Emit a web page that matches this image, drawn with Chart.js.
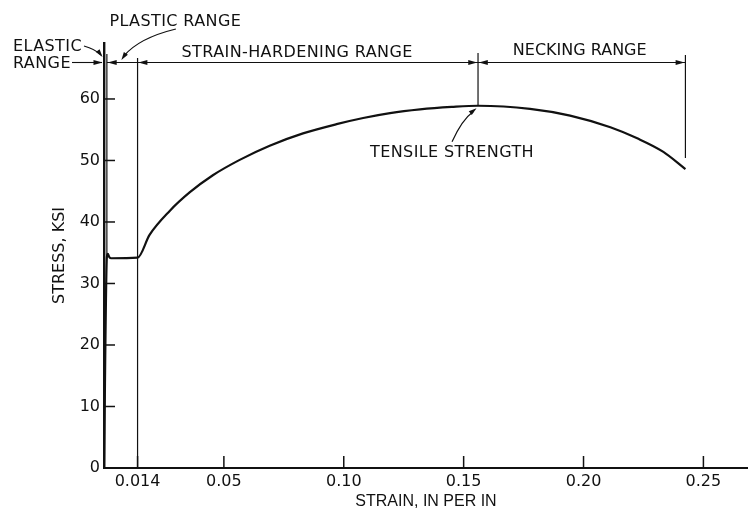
<!DOCTYPE html>
<html>
<head>
<meta charset="utf-8">
<script src="https://cdn.jsdelivr.net/npm/chart.js@4.4.1/dist/chart.umd.min.js"></script>
<style>
  html, body { margin: 0; padding: 0; background: #ffffff; }
  #wrap { width: 748px; height: 511px; position: relative; }
</style>
</head>
<body>
<div id="wrap"><canvas id="c" width="748" height="511"></canvas></div>
<script>
// ---- data ----
const strain = [0, 0.0012, 0.0016, 0.0022, 0.0030, 0.014, 0.0190, 0.0274, 0.0357, 0.0454, 0.0566, 0.0691, 0.0830, 0.0970, 0.1081, 0.1193, 0.1318, 0.145, 0.156, 0.1777, 0.1944, 0.2112, 0.2224, 0.2333, 0.2425];
const stress = [0, 34.3, 34.8, 34.3, 34.1, 34.2, 37.9, 41.8, 44.8, 47.6, 50.1, 52.4, 54.4, 55.9, 56.9, 57.7, 58.3, 58.7, 58.9, 58.4, 57.3, 55.4, 53.6, 51.4, 48.6];
const xTickValues = [0.014, 0.05, 0.10, 0.15, 0.20, 0.25];
const xTickLabels = ['0.014', '0.05', '0.10', '0.15', '0.20', '0.25'];
const yTickValues = [0, 10, 20, 30, 40, 50, 60];
const rangeBounds = [0, 0.0012, 0.014, 0.156, 0.2425];   // elastic | plastic | strain-hardening | necking
const neckingLineEnd = 50.4;                             // stress where the necking extension line stops
const labelElastic = ['ELASTIC', 'RANGE'];
const labelPlastic = 'PLASTIC RANGE';
const labelHardening = 'STRAIN-HARDENING RANGE';
const labelNecking = 'NECKING RANGE';
const labelTensile = 'TENSILE STRENGTH';
const xTitle = 'STRAIN, IN PER IN';
const yTitle = 'STRESS, KSI';

const INK = '#111111';
const ANN_FONT = '16px "DejaVu Sans"';

function stressAt(s) { return stress[strain.indexOf(s)]; }

const annotations = {
  id: 'annotations',
  afterDraw(chart) {
    const { ctx, chartArea: a, scales: { x, y } } = chart;
    const X = v => x.getPixelForValue(v);
    const Y = v => y.getPixelForValue(v);
    const line = (x1, y1, x2, y2) => { ctx.beginPath(); ctx.moveTo(x1, y1); ctx.lineTo(x2, y2); ctx.stroke(); };
    const head = (tx, ty, ang, len = 9, half = 2.6) => {
      ctx.beginPath();
      ctx.moveTo(tx, ty);
      ctx.lineTo(tx - len * Math.cos(ang) + half * Math.sin(ang), ty - len * Math.sin(ang) - half * Math.cos(ang));
      ctx.lineTo(tx - len * Math.cos(ang) - half * Math.sin(ang), ty - len * Math.sin(ang) + half * Math.cos(ang));
      ctx.closePath();
      ctx.fill();
    };
    ctx.save();
    ctx.strokeStyle = INK;
    ctx.fillStyle = INK;
    ctx.lineCap = 'butt';

    // inward tick marks
    ctx.lineWidth = 1.5;
    xTickValues.forEach(v => { const px = X(v); line(px, a.bottom, px, a.bottom - 12); });
    yTickValues.forEach(v => { if (v === 0) return; const py = Y(v); line(a.left, py, a.left + 11, py); });

    // extension lines of the ranges
    ctx.lineWidth = 1.2;
    const xb = rangeBounds.map(X);
    line(xb[1], a.top + 11, xb[1], Y(stressAt(rangeBounds[1])));
    line(xb[2], a.top + 15, xb[2], a.bottom);
    line(xb[3], a.top + 10, xb[3], Y(stressAt(rangeBounds[3])));
    line(xb[4], a.top + 12, xb[4], Y(neckingLineEnd));

    // dimension line
    const dy = a.top + 19.5;
    ctx.lineWidth = 1.1;
    line(xb[0] - 32, dy, xb[0] - 2, dy);
    head(xb[0] - 1.5, dy, 0);
    line(xb[1], dy, xb[4], dy);
    head(xb[1] + 0.8, dy, Math.PI);
    head(xb[2] + 0.8, dy, Math.PI);
    head(xb[3] - 0.8, dy, 0);
    head(xb[3] + 0.8, dy, Math.PI);
    head(xb[4] - 0.8, dy, 0);

    // leaders
    ctx.lineWidth = 1.2;
    // elastic
    ctx.beginPath();
    ctx.moveTo(xb[0] - 20, a.top + 3);
    ctx.quadraticCurveTo(xb[0] - 9, a.top + 6, xb[0] - 3, a.top + 12);
    ctx.stroke();
    head(xb[0] - 1.5, a.top + 14, Math.atan2(8, 6), 8, 2.4);
    // plastic
    ctx.beginPath();
    ctx.moveTo(xb[1] + 69, a.top - 14);
    ctx.quadraticCurveTo(xb[1] + 32, a.top - 5, xb[1] + 17, a.top + 13);
    ctx.stroke();
    head(xb[1] + 14.5, a.top + 17, Math.atan2(22, -15), 8, 2.4);
    // tensile strength
    const pk = { x: X(rangeBounds[3]), y: Y(stressAt(rangeBounds[3])) };
    ctx.beginPath();
    ctx.moveTo(pk.x - 26, pk.y + 36);
    ctx.quadraticCurveTo(pk.x - 16, pk.y + 14, pk.x - 5, pk.y + 6);
    ctx.stroke();
    head(pk.x - 1.5, pk.y + 2.5, Math.atan2(-11.5, 14.5), 8, 2.4);

    // texts
    ctx.font = ANN_FONT;
    ctx.textBaseline = 'middle';
    ctx.textAlign = 'left';
    try { ctx.letterSpacing = '0.4px'; } catch (e) {}
    ctx.fillText(labelElastic[0], xb[0] - 91, a.top + 3.7);
    ctx.fillText(labelElastic[1], xb[0] - 91, a.top + 21);
    ctx.fillText(labelPlastic, xb[1] + 2.5, a.top - 21.3);
    ctx.fillText(labelHardening, xb[2] + 44, a.top + 9.5);
    ctx.fillText(labelTensile, pk.x - 108, pk.y + 47);
    try { ctx.letterSpacing = '0px'; } catch (e) {}
    ctx.textAlign = 'center';
    ctx.fillText(labelNecking, (xb[3] + xb[4]) / 2 - 2, a.top + 8);
    ctx.restore();
  }
};

new Chart(document.getElementById('c'), {
  type: 'scatter',
  data: {
    datasets: [{
      data: strain.map((s, i) => ({ x: s, y: stress[i] })),
      showLine: true,
      borderColor: INK,
      borderWidth: 2.2,
      pointRadius: 0,
      pointHoverRadius: 0,
      cubicInterpolationMode: 'monotone',
      fill: false
    }]
  },
  options: {
    responsive: false,
    devicePixelRatio: 1,
    animation: false,
    events: [],
    layout: { padding: { top: 43, left: 0, right: 0, bottom: 0 } },
    plugins: { legend: { display: false }, tooltip: { enabled: false }, title: { display: false } },
    scales: {
      x: {
        type: 'linear',
        min: 0,
        max: 0.2686,
        border: { display: true, color: INK, width: 2 },
        grid: { display: false, drawTicks: false },
        afterBuildTicks: s => { s.ticks = xTickValues.map(v => ({ value: v })); },
        ticks: {
          padding: 4,
          color: INK,
          autoSkip: false,
          maxRotation: 0,
          font: { family: 'DejaVu Sans', size: 16 },
          callback: v => xTickLabels[xTickValues.indexOf(v)]
        },
        title: {
          display: true,
          text: xTitle,
          color: INK,
          font: { family: 'Liberation Sans', size: 16 },
          padding: { top: 0, bottom: 0 }
        },
        afterFit: s => { s.height = 43; }
      },
      y: {
        type: 'linear',
        min: 0,
        max: 69.1,
        border: { display: true, color: INK, width: 2.4 },
        grid: { display: false, drawTicks: false },
        afterBuildTicks: s => { s.ticks = yTickValues.map(v => ({ value: v })); },
        ticks: {
          padding: 4,
          color: INK,
          font: { family: 'DejaVu Sans', size: 16 },
          callback: v => String(v)
        },
        title: {
          display: true,
          text: yTitle,
          color: INK,
          font: { family: 'DejaVu Sans', size: 16 },
          padding: { top: 50, bottom: 0 }
        },
        afterFit: s => { s.width = 104; }
      }
    }
  },
  plugins: [annotations]
});
</script>
</body>
</html>
